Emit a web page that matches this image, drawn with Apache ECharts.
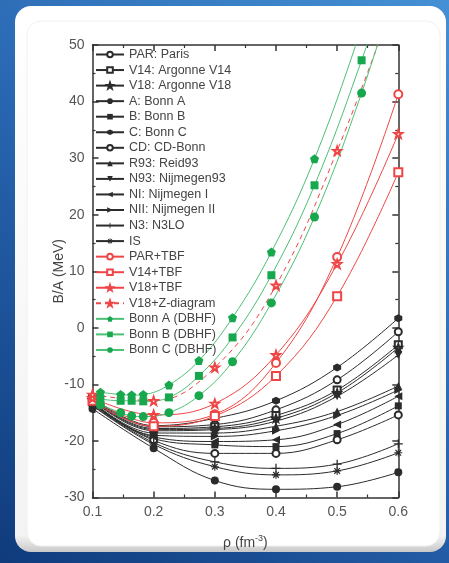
<!DOCTYPE html>
<html><head><meta charset="utf-8">
<script src="https://cdn.jsdelivr.net/npm/echarts@6/dist/echarts.min.js"></script>
<style>html,body{margin:0;padding:0;background:#2a6db8}#c{width:449px;height:563px}</style>
</head><body><div id="c"></div>
<script>
// density grid (fm^-3)
const rho = [0.1, 0.2, 0.3, 0.4, 0.5, 0.6];
// BHF, two-body forces only (MeV)
const PAR = [-12.5, -17.5, -17.1, -14.5, -9.2, -0.7];
const V14 = [-12.6, -17.8, -17.5, -15.5, -11.0, -3.0];
const V18 = [-12.7, -18.0, -17.8, -16.0, -11.5, -3.5];
const BONN_A = [-14.3, -21.3, -27.0, -28.55, -28.1, -25.55];
const BONN_B = [-13.4, -19.6, -20.7, -21.0, -18.7, -13.8];
const BONN_C = [-12.3, -17.3, -16.0, -12.9, -7.0, 1.7];
const CD = [-13.5, -19.9, -22.2, -22.2, -19.8, -15.4];
const R93 = [-13.0, -18.6, -18.6, -17.4, -14.8, -10.3];
const N93 = [-12.8, -18.2, -18.0, -16.5, -12.1, -4.8];
const NI = [-13.3, -19.3, -20.1, -19.8, -17.1, -12.1];
const NII = [-13.1, -19.0, -19.2, -18.2, -15.5, -11.0];
const N3 = [-13.7, -20.3, -23.7, -24.85, -24.1, -20.5];
const IS = [-13.8, -20.6, -24.55, -26.0, -25.3, -22.1];
// with three-body forces
const PAR_TBF = [-12.6, -16.8, -15.3, -6.2, 12.5, 41.3];
const V14_TBF = [-12.9, -17.4, -15.6, -8.5, 5.6, 27.5];
const V18_TBF = [-12.4, -15.4, -13.4, -4.8, 11.3, 34.3];
const V18_Z = [-11.8, -12.9, -7.0, 7.5, 31.3, 60];
// DBHF
const rhoD = [0.113, 0.146, 0.164, 0.183, 0.225, 0.274, 0.329, 0.3925, 0.463, 0.540, 0.6];
const DBHF_A = [-11.4, -11.8, -11.9, -11.8, -10.1, -5.8, 1.8, 13.4, 29.9, 53, 73];
const DBHF_B = [-12.6, -12.9, -12.9, -13.0, -12.3, -8.5, -1.7, 9.3, 25.2, 47.3, 67];
const DBHF_C = [-13.6, -15.0, -15.6, -15.7, -15.0, -12.0, -6.0, 4.4, 19.6, 41.5, 62];
// axis ticks
const xTicks = {min: 0.1, max: 0.6, step: 0.1};
const yTicks = {min: -30, max: 50, step: 10};

const FONT = '"Liberation Sans", Arial, sans-serif';
const BLACK = '#2b2b2b', RED = '#ee4646', GREEN = '#17a84e';
const STAR = 'path://M0,-10 L2.35,-3.24 L9.51,-3.09 L3.8,1.24 L5.88,8.09 L0,4 L-5.88,8.09 L-3.8,1.24 L-9.51,-3.09 L-2.35,-3.24 Z';
const HEX = 'path://M0,-10 L8.66,-5 L8.66,5 L0,10 L-8.66,5 L-8.66,-5 Z';
const PENT = 'path://M0,-10 L9.51,-3.09 L5.88,8.09 L-5.88,8.09 L-9.51,-3.09 Z';
const PLUS = 'path://M-1.4,-10 L1.4,-10 L1.4,-1.4 L10,-1.4 L10,1.4 L1.4,1.4 L1.4,10 L-1.4,10 L-1.4,1.4 L-10,1.4 L-10,-1.4 L-1.4,-1.4 Z';
const ASTER = 'path://M-1.3,-10 L1.3,-10 L1.3,10 L-1.3,10 Z M-10,-1.3 L10,-1.3 L10,1.3 L-10,1.3 Z M-6.01,-8.13 L8.13,6.01 L6.01,8.13 L-8.13,-6.01 Z M-8.13,6.01 L6.01,-8.13 L8.13,-6.01 L-6.01,8.13 Z';

function mk(name, xs, ys, color, symbol, size, extra) {
  const s = {
    type: 'line', name: name,
    data: xs.map((x, i) => [x, ys[i]]),
    smooth: 0.4,
    symbol: symbol, symbolSize: size,
    lineStyle: {color: color, width: 1},
    itemStyle: {color: color},
    emphasis: {disabled: true},
    animation: false
  };
  return Object.assign(s, extra || {});
}

const series = [
  mk('PAR: Paris', rho, PAR, BLACK, 'emptyCircle', 7),
  mk('V14: Argonne V14', rho, V14, BLACK, 'emptyRect', 7),
  mk('V18: Argonne V18', rho, V18, BLACK, 'empty' + STAR, 7),
  mk('A: Bonn A', rho, BONN_A, BLACK, 'circle', 8),
  mk('B: Bonn B', rho, BONN_B, BLACK, 'rect', 7),
  mk('C: Bonn C', rho, BONN_C, BLACK, HEX, 8),
  mk('CD: CD-Bonn', rho, CD, BLACK, 'emptyCircle', 7),
  mk('R93: Reid93', rho, R93, BLACK, 'triangle', 8),
  mk('N93: Nijmegen93', rho, N93, BLACK, 'triangle', 8, {symbolRotate: 180}),
  mk('NI: Nijmegen I', rho, NI, BLACK, 'triangle', 8, {symbolRotate: 90}),
  mk('NII: Nijmegen II', rho, NII, BLACK, 'triangle', 8, {symbolRotate: -90}),
  mk('N3: N3LO', rho, N3, BLACK, PLUS, 9),
  mk('IS', rho, IS, BLACK, ASTER, 8),
  mk('PAR+TBF', rho, PAR_TBF, RED, 'emptyCircle', 8),
  mk('V14+TBF', rho, V14_TBF, RED, 'emptyRect', 8),
  mk('V18+TBF', rho, V18_TBF, RED, 'empty' + STAR, 8),
  mk('V18+Z-diagram', rho, V18_Z, RED, 'empty' + STAR, 8, {lineStyle: {color: RED, width: 1, type: [5, 4]}}),
  mk('Bonn A (DBHF)', rhoD, DBHF_A, GREEN, PENT, 9, {lineStyle: {color: '#4cbf74', width: 1}}),
  mk('Bonn B (DBHF)', rhoD, DBHF_B, GREEN, 'rect', 8, {lineStyle: {color: '#4cbf74', width: 1}}),
  mk('Bonn C (DBHF)', rhoD, DBHF_C, GREEN, 'circle', 9, {lineStyle: {color: '#4cbf74', width: 1}})
];

const axisLineStyle = {color: '#333', width: 1.5};
function xAx(pos, labels) {
  return {
    type: 'value', position: pos, min: xTicks.min, max: xTicks.max, interval: xTicks.step,
    axisLine: {show: true, onZero: false, lineStyle: axisLineStyle},
    axisTick: {show: true, inside: true, length: 6, lineStyle: axisLineStyle},
    minorTick: {show: true, splitNumber: 2, length: 3, lineStyle: {color: '#333', width: 1.2}},
    splitLine: {show: false},
    axisLabel: {show: labels, fontFamily: FONT, fontSize: 14, color: '#555', margin: 8, formatter: v => v.toFixed(1)},
    name: labels ? 'ρ (fm{sup|-3})' : '', nameLocation: 'middle', nameGap: 37, nameMoveOverlap: false,
    nameTextStyle: {fontFamily: FONT, fontSize: 14, color: '#444', rich: {sup: {fontFamily: FONT, fontSize: 9, color: '#444', verticalAlign: 'top', padding: [0, 0, 8, 0]}}}
  };
}
function yAx(pos, labels) {
  return {
    type: 'value', position: pos, min: yTicks.min, max: yTicks.max, interval: yTicks.step,
    axisLine: {show: true, onZero: false, lineStyle: axisLineStyle},
    axisTick: {show: true, inside: true, length: 6, lineStyle: axisLineStyle},
    minorTick: {show: true, splitNumber: 2, length: 3, lineStyle: {color: '#333', width: 1.2}},
    splitLine: {show: false},
    axisLabel: {show: labels, fontFamily: FONT, fontSize: 14, color: '#555', margin: 8},
    name: labels ? 'B/A (MeV)' : '', nameLocation: 'middle', nameGap: 26, nameMoveOverlap: false,
    nameTextStyle: {fontFamily: FONT, fontSize: 14, color: '#444'}
  };
}

const chart = echarts.init(document.getElementById('c'), null, {renderer: 'canvas'});
chart.setOption({
  animation: false,
  backgroundColor: new echarts.graphic.LinearGradient(1, 0, 0, 1, [
    {offset: 0, color: '#4590d4'}, {offset: 0.5, color: '#2865b0'}, {offset: 1, color: '#0f3b7c'}
  ]),
  graphic: [
    {type: 'rect', z: -10, shape: {x: 15, y: 6, width: 431, height: 546, r: 16},
     style: {fill: new echarts.graphic.LinearGradient(0, 0, 0, 1, [
       {offset: 0, color: '#ffffff'}, {offset: 0.97, color: '#f3f3f3'}, {offset: 1, color: '#c9c9c9'}])}},
    {type: 'rect', z: -9, shape: {x: 27, y: 21, width: 413, height: 525, r: 14},
     style: {fill: '#ffffff', stroke: '#f0f0f0', lineWidth: 1}}
  ],
  grid: {left: 92.5, right: 50.7, top: 45, bottom: 65.5, containLabel: false},
  xAxis: [xAx('bottom', true), xAx('top', false)],
  yAxis: [yAx('left', true), yAx('right', false)],
  legend: {
    orient: 'vertical', left: 95, top: 47.5, padding: 0,
    itemWidth: 28, itemHeight: 7, itemGap: 1.55,
    textStyle: {fontFamily: FONT, fontSize: 12.5, color: '#444', lineHeight: 14},
    data: series.map(s => s.name)
  },
  series: series
});
</script></body></html>
